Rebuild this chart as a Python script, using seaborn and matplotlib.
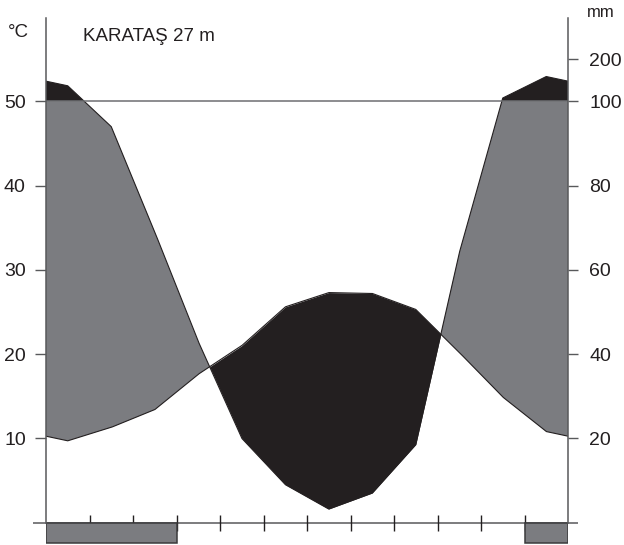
import numpy as np
import pandas as pd
import matplotlib
matplotlib.use("Agg")
import matplotlib.pyplot as plt
import seaborn as sns

# Karatas climate diagram (Walter-Lieth style)
station = "KARATAŞ 27 m"
months = ["Oca", "Şub", "Mar", "Nis", "May", "Haz", "Tem", "Ağu", "Eyl", "Eki", "Kas", "Ara"]
temp = [9.7, 11.3, 13.4, 17.6, 21.0, 25.6, 27.3, 27.2, 25.3, 20.2, 14.9, 10.8]
precip = [137, 94, 69, 43, 20, 9, 3.2, 7, 18.5, 64, 108, 159]
frost_months = ["Oca", "Şub", "Mar", "Ara"]

temp_ticks = [10, 20, 30, 40, 50]
precip_ticks = [20, 40, 60, 80, 100, 200]

GRAY = "#7b7c80"
BLACK = "#231f20"
AXIS = "#58595b"
FONT = ["Liberation Sans", "DejaVu Sans"]

sns.set_style("white")
plt.rcParams["font.family"] = FONT


def mm_to_scale(p):
    # 20 mm = 10 C up to 100 mm, then compressed 1:10
    p = np.asarray(p, dtype=float)
    return np.where(p <= 100, p / 2, 50 + (p - 100) / 20)


df = pd.DataFrame({"month": months, "temp": temp, "precip": precip})
df["x"] = np.arange(len(df)) + 0.5
df["p"] = mm_to_scale(df["precip"])

# close the year so curves run to both axes
edge_t = (df["temp"].iloc[0] + df["temp"].iloc[-1]) / 2
edge_p = (df["p"].iloc[0] + df["p"].iloc[-1]) / 2
x = np.concatenate([[0], df["x"], [12]])
t = np.concatenate([[edge_t], df["temp"], [edge_t]])
p = np.concatenate([[edge_p], df["p"], [edge_p]])

xx = np.linspace(0, 12, 2401)
tt = np.interp(xx, x, t)
pp = np.interp(xx, x, p)

fig = plt.figure(figsize=(6.24, 5.45), dpi=100)
ax = fig.add_axes([46 / 624, 0, 522 / 624, 527 / 545])
ylim = (-2.67, 59.9)

ax.fill_between(xx, 50, pp, where=pp > 50, interpolate=True, color=BLACK, lw=0)
ax.fill_between(xx, tt, np.minimum(pp, 50), where=pp >= tt, interpolate=True, color=GRAY, lw=0)
ax.fill_between(xx, pp, tt, where=tt > pp, interpolate=True, color=BLACK, lw=0)

sns.lineplot(x=xx, y=tt, ax=ax, color=BLACK, lw=0.8)
sns.lineplot(x=xx, y=pp, ax=ax, color=BLACK, lw=0.8)

ax.axhline(50, color="#6d6e71", lw=1.1, zorder=3)

# month axis
ax.hlines(0, -0.3, 12.23, color=AXIS, lw=1.1, clip_on=False, zorder=4)
ax.vlines(np.arange(1, 12), -1.05, 0.95, color=BLACK, lw=1.0, zorder=4)

# frost bars, grouped into runs of consecutive months
idx = sorted(months.index(m) for m in frost_months)
runs = []
for i in idx:
    if runs and i == runs[-1][1]:
        runs[-1][1] = i + 1
    else:
        runs.append([i, i + 1])
for a, b in runs:
    ax.add_patch(plt.Rectangle((a, -2.45), b - a, 2.45, facecolor=GRAY,
                               edgecolor="#3a3a3c", lw=1.1, zorder=5))

ax.set_xlim(0, 12)
ax.set_ylim(*ylim)
ax.set_xticks([])
ax.set_yticks(temp_ticks)
ax.set_yticklabels([str(v) for v in temp_ticks])
ax.tick_params(axis="y", direction="out", length=8, width=1.0, pad=6.5,
               labelsize=14, color=AXIS, labelcolor=BLACK, left=True)
for s in ["top", "bottom", "right"]:
    ax.spines[s].set_visible(False)
ax.spines["left"].set_bounds(0, ylim[1])
ax.spines["left"].set_color(AXIS)
ax.spines["left"].set_linewidth(1.1)
ax.spines["left"].set_zorder(6)

ax2 = ax.twinx()
ax2.set_ylim(*ylim)
ax2.set_yticks(mm_to_scale(precip_ticks))
ax2.set_yticklabels([str(v) for v in precip_ticks])
ax2.tick_params(axis="y", direction="out", length=7.2, width=1.0, pad=8,
                labelsize=14, color=AXIS, labelcolor=BLACK, right=True)
for s in ["top", "bottom", "left"]:
    ax2.spines[s].set_visible(False)
ax2.spines["right"].set_bounds(0, ylim[1])
ax2.spines["right"].set_color(AXIS)
ax2.spines["right"].set_linewidth(1.1)

fig.text(83 / 624, 1 - 41 / 545, station, fontsize=13.5, color=BLACK, va="baseline")
fig.text(8 / 624, 1 - 37 / 545, "°C", fontsize=13.5, color=BLACK, va="baseline")
fig.text(587 / 624, 1 - 17 / 545, "mm", fontsize=12, color=BLACK, va="baseline")

fig.savefig("out.png", dpi=100)
